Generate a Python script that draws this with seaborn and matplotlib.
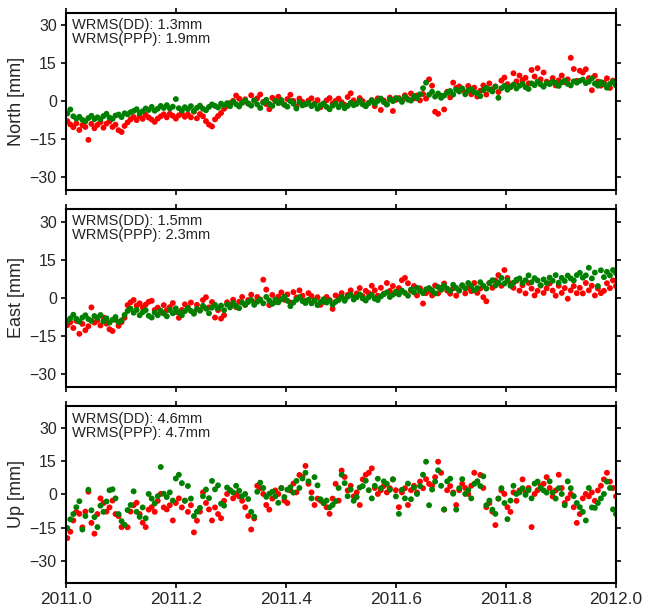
import numpy as np
import pandas as pd
import matplotlib
matplotlib.use("Agg")
import matplotlib.pyplot as plt
import seaborn as sns

# daily solutions thinned to every second day, decimal year
epoch = 2011 + (np.arange(183) * 2 + 1) / 365.0

north_dd = [
    -4.8, -3.2, -5.9, -6.8, -6.1, -7.3, -7.9, -6.6, -5.7, -7.0,
    -6.3, -7.1, -5.8, -4.9, -6.4, -6.9, -5.6, -5.2, -6.2, -4.7,
    -5.1, -4.3, -3.8, -3.1, -4.6, -3.9, -2.8, -3.4, -2.2, -3.7,
    -2.9, -1.8, -2.6, -1.5, -2.8, -2.1, 0.9, -2.7, -3.6, -2.3,
    -3.1, -1.9, -3.8, -2.6, -1.7, -2.9, -3.5, -2.2, -1.2, -1.8,
    -2.4, -0.9, -1.6, -0.7, -1.9, -0.2, -1.1, -2.0, -0.6, 0.3,
    -0.8, -1.7, 0.4, -1.2, -2.6, -0.5, 0.6, -1.0, -1.8, 0.2,
    -0.7, 0.5, -1.3, -2.1, 0.1, -0.9, -2.8, -0.4, -1.6, -1.1,
    -0.6, -1.9, -1.2, -2.9, -1.5, -0.8, -2.2, -3.1, -1.7, -0.9,
    -2.3, -1.1, -2.7, -1.8, -0.6, -1.5, -0.9, 0.3, -1.2, -1.9,
    -0.7, 0.4, -0.9, 0.2, 1.1, -0.3, -1.2, 0.8, 0.1, 1.3,
    0.9, -0.2, 1.8, 0.7, 0.3, 2.1, 1.2, 2.8, 5.2, 7.4,
    2.6, 3.8, 1.9, 3.1, 1.4, 2.3, 3.4, 4.1, 2.7, 4.6,
    3.9, 5.1, 2.8, 4.3, 4.8, 3.6, 3.2, 2.1, 4.4, 5.3,
    4.7, 3.9, 5.8, 1.4, 5.2, 6.1, 4.6, 5.7, 6.6, 5.1,
    6.2, 6.9, 5.6, 4.9, 7.1, 6.4, 7.8, 6.7, 5.8, 7.2,
    6.8, 7.7, 7.3, 6.1, 7.5, 8.2, 6.9, 6.3, 7.9, 7.4,
    8.1, 8.6, 7.2, 7.8, 9.1, 7.0, 6.2, 7.6, 6.8, 5.4,
    6.9, 7.8, 6.3,
]
north_ppp = [
    -7.8, -9.1, -10.2, -8.7, -11.3, -9.4, -10.1, -15.2, -8.9, -10.6,
    -9.3, -8.2, -10.4, -8.8, -7.9, -10.1, -9.2, -11.4, -12.1, -9.7,
    -8.3, -7.1, -6.2, -7.4, -5.8, -6.9, -5.3, -6.4, -7.2, -8.1,
    -6.8, -5.9, -5.1, -6.3, -4.9, -5.7, -6.8, -5.5, -4.8, -6.1,
    -5.2, -6.3, -4.1, -6.7, -5.0, -5.9, -7.8, -9.2, -9.9, -7.1,
    -5.8, -4.6, -2.9, -1.8, -0.7, 0.2, 2.3, 1.1, -0.3, 0.8,
    -0.9, 2.4, 0.3, 1.2, 2.7, -0.2, -1.1, -3.1, 1.4, 0.1,
    1.8, -0.4, -1.3, 0.9, 2.6, 0.2, -2.1, 1.1, -0.2, -1.2,
    0.3, 1.2, -0.9, 0.5, -2.3, -1.1, 0.4, 1.3, -0.8, 0.2,
    1.1, -0.3, -1.4, 1.7, 3.2, 0.4, -0.9, 1.3, 0.1, -1.8,
    -0.6, 0.5, -1.9, 1.2, -3.4, 0.3, -1.2, 1.5, -3.8, 0.6,
    1.3, 0.2, 2.4, 0.9, 3.1, 1.2, 2.3, 0.4, 2.9, 1.1,
    8.7, 6.2, -4.1, -4.9, 2.2, -3.2, 3.8, 1.6, 7.4, 5.3,
    5.9, 4.7, 3.6, 6.1, 2.8, 5.4, 1.9, 4.2, 6.3, 2.7,
    7.1, 4.8, 5.9, 3.7, 8.2, 9.4, 6.8, 5.6, 11.1, 7.9,
    10.2, 8.4, 9.3, 7.1, 12.4, 9.8, 13.1, 8.7, 11.4, 7.8,
    7.2, 9.2, 6.3, 8.3, 10.2, 7.6, 8.7, 17.2, 12.8, 8.1,
    12.1, 11.4, 12.7, 9.2, 4.4, 10.1, 7.8, 6.2, 7.4, 9.1,
    5.3, 8.2, 6.6,
]
east_dd = [
    -9.2, -8.1, -6.7, -8.3, -9.4, -7.8, -6.9, -8.4, -9.1, -7.2,
    -7.9, -6.8, -9.3, -8.1, -9.8, -8.7, -7.6, -9.6, -8.9, -6.8,
    -5.2, -4.3, -5.9, -4.8, -6.9, -5.7, -4.9, -7.1, -7.8, -5.8,
    -6.9, -5.1, -6.2, -7.3, -4.8, -6.1, -4.2, -5.8, -6.9, -5.3,
    -4.1, -5.2, -6.3, -4.4, -5.1, -3.2, -4.3, -6.1, -3.9, -2.8,
    -4.2, -3.1, -4.9, -2.7, -3.8, -2.1, -3.3, -4.1, -1.9, -2.8,
    -1.7, -0.9, -2.8, -1.6, -0.8, -2.2, 0.3, -1.1, -2.4, -0.7,
    -1.8, -0.6, 0.4, -1.2, -3.3, -1.9, -0.8, 0.2, -1.3, -2.1,
    -0.8, -2.2, -1.1, -2.9, -1.7, -0.6, -1.9, -1.2, -2.7, -1.6,
    -0.9, 0.3, -1.2, 0.4, 1.2, -0.7, 0.2, 1.3, -0.3, -1.1,
    0.2, 1.1, -0.4, -0.9, 0.5, 1.4, 2.1, 0.3, 1.2, 2.4,
    1.3, 2.8, 1.9, 0.8, 3.2, 2.1, 3.9, 2.7, 1.8, 3.3,
    3.8, 2.9, 1.7, 4.2, 3.1, 4.8, 3.6, 2.8, 5.1, 3.9,
    2.8, 4.9, 3.7, 5.8, 4.6, 2.9, 3.8, 6.1, 4.7, 3.6,
    5.7, 6.9, 4.8, 5.9, 7.8, 5.6, 6.8, 4.7, 5.9, 7.1,
    7.6, 5.8, 6.9, 8.8, 6.1, 7.7, 6.8, 4.9, 7.2, 5.8,
    7.9, 6.7, 8.9, 5.9, 7.8, 6.6, 8.7, 7.6, 6.8, 8.9,
    9.8, 7.9, 8.8, 11.8, 7.6, 9.9, 4.6, 10.8, 8.1, 10.2,
    8.8, 10.9, 9.7,
]
east_ppp = [
    -10.8, -9.7, -11.9, -9.1, -14.2, -10.3, -12.8, -11.2, -3.8, -9.8,
    -8.9, -10.9, -7.8, -10.2, -12.4, -13.1, -8.7, -11.1, -9.6, -7.9,
    -2.9, -1.8, -0.9, -3.1, -2.2, -3.8, -2.7, -1.6, -1.2, -4.8,
    -3.9, -5.8, -2.9, -4.9, -3.7, -2.1, -5.6, -7.9, -4.8, -2.6,
    -3.8, -1.9, -5.7, -2.8, -4.9, -0.9, 0.2, -3.8, -1.7, -7.8,
    -4.9, -8.2, -6.9, -1.8, -2.9, -0.8, -3.7, -1.6, 0.3, -2.8,
    -0.9, 1.2, -1.8, 0.3, -0.7, 7.1, 3.2, -2.9, 1.1, -1.7,
    0.4, 2.1, -0.8, 1.3, -1.9, 2.2, 0.1, 2.9, 0.8, -1.2,
    1.8, 0.7, -1.1, 0.2, -2.8, -1.6, 0.3, -0.9, -4.4, 0.9,
    0.2, 1.8, -0.7, 1.1, 2.9, 0.1, 1.7, 3.8, 0.6, 2.7,
    1.8, 4.7, 2.9, 0.8, 3.9, 1.6, 5.8, 2.7, 4.6, 1.9,
    3.8, 6.9, 7.8, 5.7, 2.8, 4.6, 0.9, 3.7, -2.3, 1.8,
    2.7, 0.9, 4.8, 1.7, 3.9, 5.6, 2.8, 1.6, 3.7, 0.8,
    2.9, 4.8, 1.7, 3.9, 2.6, 5.8, 1.9, 3.6, 0.2, -1.4,
    5.8, 3.9, 6.8, 8.9, 4.7, 10.9, 7.8, 5.6, 3.9, 6.7,
    2.8, 4.9, 1.7, 5.8, 3.6, 0.9, 2.7, 4.8, 1.9, 3.7,
    5.6, 2.8, 0.8, 4.7, 1.9, 3.8, -0.4, 2.9, 4.6, 1.8,
    3.9, 1.7, 5.8, 2.9, 4.7, 0.9, 3.6, 1.8, 2.7, 5.7,
    3.8, 6.8, 4.6,
]
up_dd = [
    -15.2, -11.3, -8.9, -5.8, -3.1, -15.9, -9.8, 2.1, -7.2, -10.3,
    -14.8, -5.1, -7.9, -3.2, 1.9, 2.3, -1.8, -8.9, -12.1, -13.8,
    -7.1, -4.8, 1.4, -7.9, -10.2, -5.9, -10.8, 0.2, -1.9, -4.1,
    -0.8, 12.4, 0.3, -1.2, 0.9, -2.8, 7.2, 8.9, 5.1, -2.9,
    3.8, -1.9, -9.8, -7.8, -6.1, -0.8, 2.2, -1.7, 6.1, 2.3,
    4.1, -4.2, -5.1, 3.1, 1.8, 0.9, 3.9, 1.7, -0.8, 0.2,
    -2.1, -7.9, -10.1, 1.2, 5.3, 2.9, -1.1, 0.3, 1.2, -0.9,
    -3.8, 2.8, -1.2, 2.1, 3.2, 0.8, 6.1, 2.9, 7.2, 9.8,
    5.9, -1.8, 7.8, 4.1, -2.2, -3.9, -2.8, -5.9, -4.8, -3.1,
    2.9, 8.9, 5.1, -0.8, 2.2, -2.9, -1.2, 3.1, 3.8, 6.2,
    1.9, -1.8, 3.9, 7.1, 2.8, 5.9, 4.8, 2.1, 6.8, -0.9,
    -8.8, 2.1, -1.8, 4.9, -2.2, 3.1, 0.2, 3.8, 8.9, 14.8,
    -4.9, 2.2, 5.8, 10.9, 3.9, -6.8, 5.9, 7.1, 0.3, -6.9,
    2.8, 6.9, 0.2, 1.9, -1.8, 4.8, 5.9, 3.8, 8.2, -4.9,
    -2.8, -6.9, -8.8, -1.9, 2.8, -3.9, -11.2, -2.8, 3.9, 0.2,
    0.9, 2.8, -0.2, 1.9, -1.8, 4.9, 5.8, 2.9, 1.8, 0.8,
    5.9, 0.9, -1.9, 2.8, 0.2, -4.9, 5.9, 2.8, -0.8, -3.9,
    -5.8, -7.9, -11.8, 2.9, -5.9, -6.1, -3.9, -1.8, 0.2, 5.8,
    2.9, -6.8, -8.9,
]
up_ppp = [
    -19.8, -16.9, -11.8, -7.9, -8.8, -14.9, -7.8, 1.2, -12.9, -17.8,
    -8.9, -1.8, -3.9, -7.8, -5.9, -2.8, -8.9, -9.8, -14.8, -13.9,
    -14.9, -7.8, -4.9, -3.8, -8.9, -12.8, -14.8, -6.9, -5.8, -7.9,
    -2.9, 0.2, -5.9, -6.8, -4.9, -11.8, -3.9, -1.8, -5.9, -2.8,
    -7.9, -4.9, -17.2, -11.9, -7.8, 0.9, -3.9, -6.8, -11.8, -5.9,
    -8.9, -10.8, -2.9, 0.2, 1.9, -1.8, 0.1, -0.9, -2.9, -5.8,
    -9.8, -15.9, -10.9, 3.9, 2.8, 0.2, -4.8, -6.9, -1.9, 1.8,
    0.2, 2.9, -2.8, -3.9, 1.8, 4.9, 0.9, 8.8, 7.9, 12.9,
    4.8, 0.9, -4.8, -1.9, -2.8, -3.9, -5.8, -8.8, -1.9, 4.8,
    -2.8, 10.8, 7.9, 1.8, 3.9, -0.9, 0.9, -4.8, 6.8, 8.9,
    9.8, 11.8, 2.9, 0.2, 1.9, 3.8, 0.9, 2.8, 6.8, 1.9,
    -5.8, 0.9, 2.8, -4.8, 1.9, 3.9, 0.9, 5.8, 2.8, 6.9,
    4.8, 3.9, 7.8, 14.8, 9.8, -6.9, 1.9, 3.8, 0.9, -4.8,
    1.9, 4.8, 2.9, 0.2, 3.9, 9.8, 5.8, 8.8, 2.9, -5.8,
    -3.9, -7.8, -13.9, -1.9, 1.8, 0.2, -5.8, -7.9, 0.9, -2.9,
    1.8, 6.8, 0.9, 2.9, -14.8, 0.2, 1.9, 3.9, 4.8, 7.8,
    2.9, -0.9, 1.8, 8.9, 2.9, -3.9, -1.8, 0.2, -5.8, -12.9,
    -8.9, -1.8, 0.2, -0.9, 0.9, -2.9, 1.8, 3.9, 6.8, 9.8,
    5.8, 2.9, -0.9,
]

components = ["North", "East", "Up"]
wrms_dd = [1.3, 1.5, 4.6]
wrms_ppp = [1.9, 2.3, 4.7]
dd_series = [north_dd, east_dd, up_dd]
ppp_series = [north_ppp, east_ppp, up_ppp]
ylims = [(-35, 35), (-35, 35), (-40, 40)]

sns.set_style("ticks")
plt.rcParams["font.family"] = ["Liberation Sans", "DejaVu Sans"]

fig = plt.figure(figsize=(6.45, 6.07), dpi=100)
boxes = [
    (0.102, 0.687, 0.853, 0.292),
    (0.102, 0.363, 0.853, 0.293),
    (0.102, 0.040, 0.853, 0.291),
]

for i, comp in enumerate(components):
    ax = fig.add_axes(boxes[i])
    n = len(epoch)
    df = pd.DataFrame({
        "epoch": np.concatenate([epoch, epoch]),
        "value": np.concatenate([ppp_series[i], dd_series[i]]),
        "sol": ["PPP"] * n + ["DD"] * n,
    })
    sns.scatterplot(data=df, x="epoch", y="value", hue="sol",
                    palette={"PPP": "#ff0000", "DD": "#008000"},
                    s=18, linewidth=0, legend=False, ax=ax)

    ax.set_xlim(2011.0, 2012.0)
    ax.set_ylim(*ylims[i])
    ax.set_yticks([-30, -15, 0, 15, 30])
    xt = [2011.0, 2011.2, 2011.4, 2011.6, 2011.8, 2012.0]
    ax.set_xticks(xt)
    ax.set_xticklabels([f"{v:.1f}" for v in xt], fontsize=12.5)
    ax.tick_params(axis="y", labelsize=11.5)
    ax.tick_params(direction="out", length=3.5, width=1.2, top=True, right=True,
                   color="black", pad=3)
    if i < 2:
        ax.tick_params(labelbottom=False)
    for sp in ax.spines.values():
        sp.set_linewidth(1.5)
        sp.set_color("black")

    ax.set_xlabel("")
    ax.set_ylabel(f"{comp} [mm]", fontsize=13)
    ax.yaxis.set_label_coords(-0.074, 0.5)

    ax.text(0.012, 0.968,
            f"WRMS(DD): {wrms_dd[i]}mm\nWRMS(PPP): {wrms_ppp[i]}mm",
            transform=ax.transAxes, ha="left", va="top",
            fontsize=10.5, linespacing=1.0, color="#222222")

fig.savefig("out.png", dpi=100)
